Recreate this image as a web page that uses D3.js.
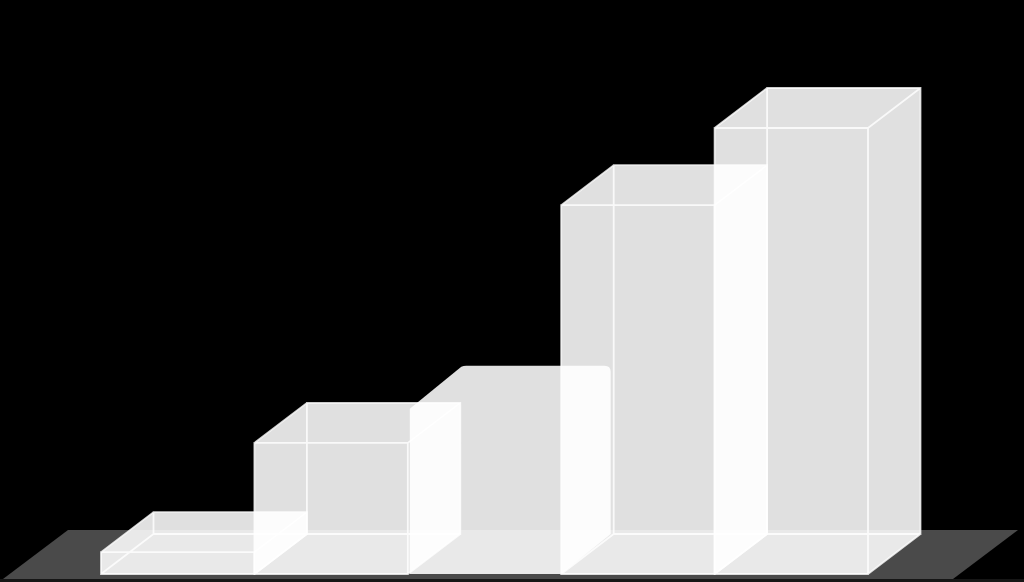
<!DOCTYPE html>
<html>
<head>
<meta charset="utf-8">
<script src="https://cdn.jsdelivr.net/npm/d3@7"></script>
<style>
  html, body { margin: 0; padding: 0; background: #000; overflow: hidden; }
  svg { display: block; }
</style>
</head>
<body>
<div id="chart"></div>
<script>
// values (no labels or axis in the reference)
const categories = ["A", "B", "C", "D", "E"];
const values = [4.9, 29.4, 37.7, 82.7, 100];
const plainBoxes = ["C"]; // this box has rounded corners and no wireframe

const width = 1024, height = 582;
const depthX = 52.5, depthY = -40;
const boxFill = "rgba(255,255,255,0.878)";
const edgeColor = "rgba(255,255,255,0.8)";

const svg = d3.select("#chart").append("svg")
    .attr("width", width)
    .attr("height", height);

const xScale = d3.scaleBand().domain(categories).range([101, 868]);
const yScale = d3.scaleLinear().domain([0, 100]).range([574, 128]);

svg.append("rect")
    .attr("width", width)
    .attr("height", height)
    .attr("fill", "#000");

// strip under the floor
svg.append("rect")
    .attr("y", 579)
    .attr("width", width)
    .attr("height", 3)
    .attr("fill", "#161616");

// floor
svg.append("path")
    .attr("d", "M3,579L68,530L1018,530L953,579Z")
    .attr("fill", "#4a4a4a");

function outline(x0, x1, yTop, yBase) {
    return [
        "M", x0, yBase,
        "L", x0, yTop,
        "L", x0 + depthX, yTop + depthY,
        "L", x1 + depthX, yTop + depthY,
        "L", x1 + depthX, yBase + depthY,
        "L", x1, yBase,
        "Z"
    ].join(" ");
}

function roundedOutline(x0, x1, yTop, yBase) {
    const r = 6, left = x0 + 2, right = x1 + depthX - 3;
    return [
        "M", left, yBase,
        "L", left, yTop + 3,
        "L", left + depthX - 1, yTop + depthY + 1,
        "Q", left + depthX + 1, yTop + depthY, left + depthX + 4, yTop + depthY,
        "L", right - r, yTop + depthY,
        "Q", right, yTop + depthY, right, yTop + depthY + r,
        "L", right, yBase + depthY,
        "L", x1, yBase,
        "Z"
    ].join(" ");
}

function wireframe(x0, x1, yTop, yBase) {
    const bx0 = x0 + depthX, bx1 = x1 + depthX;
    const byTop = yTop + depthY, byBase = yBase + depthY;
    return [
        // front
        `M${x0},${yBase}L${x0},${yTop}L${x1},${yTop}L${x1},${yBase}Z`,
        // back
        `M${bx0},${byBase}L${bx0},${byTop}L${bx1},${byTop}L${bx1},${byBase}Z`,
        // depth lines
        `M${x0},${yBase}L${bx0},${byBase}`,
        `M${x0},${yTop}L${bx0},${byTop}`,
        `M${x1},${yTop}L${bx1},${byTop}`,
        `M${x1},${yBase}L${bx1},${byBase}`
    ].join("");
}

const data = categories.map((name, i) => ({ name, value: values[i] }));

svg.selectAll(".boxBody")
    .data(data)
    .join("path")
    .attr("class", "boxBody")
    .attr("fill", boxFill)
    .attr("d", d => {
        const x0 = xScale(d.name), x1 = x0 + xScale.bandwidth();
        const draw = plainBoxes.includes(d.name) ? roundedOutline : outline;
        return draw(x0, x1, yScale(d.value), yScale(0));
    });

// edges go on top of all the bodies so they stay visible in the overlaps
svg.selectAll(".boxEdges")
    .data(data.filter(d => !plainBoxes.includes(d.name)))
    .join("path")
    .attr("class", "boxEdges")
    .attr("fill", "none")
    .attr("stroke", edgeColor)
    .attr("stroke-width", 1.8)
    .attr("d", d => {
        const x0 = xScale(d.name), x1 = x0 + xScale.bandwidth();
        return wireframe(x0, x1, yScale(d.value), yScale(0));
    });
</script>
</body>
</html>
